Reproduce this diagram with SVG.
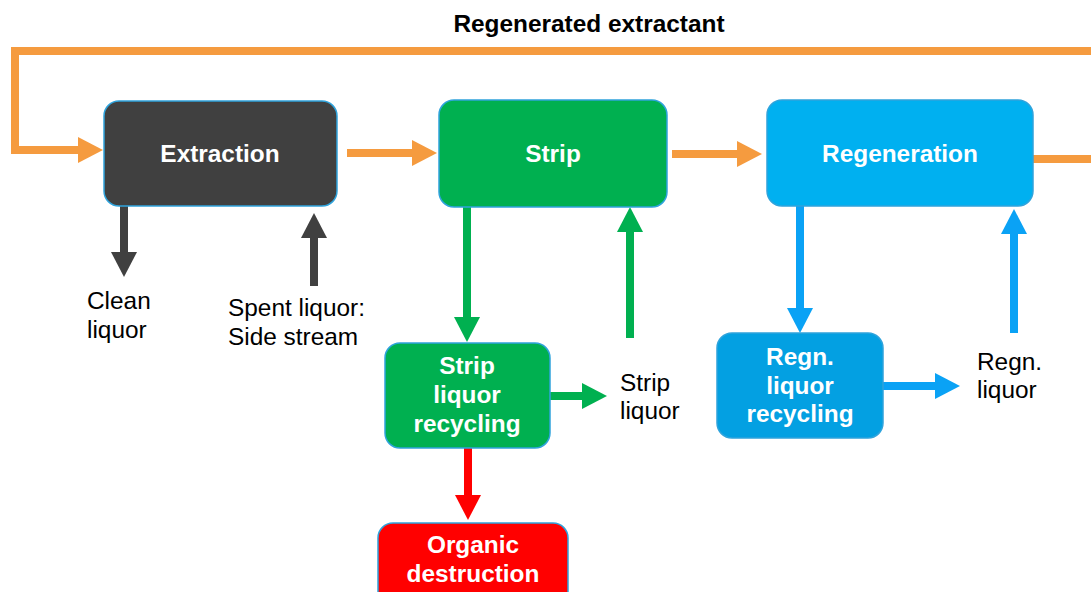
<svg xmlns="http://www.w3.org/2000/svg" width="1091" height="592" viewBox="0 0 1091 592">
  <style>
    .box { stroke: #2fa3dc; stroke-width: 1.5; }
    .bt { font-family: "Liberation Sans", Arial, sans-serif; font-weight: bold; font-size: 24.4px; fill: #ffffff; text-anchor: middle; }
    .lt { font-family: "Liberation Sans", Arial, sans-serif; font-size: 24.4px; fill: #000000; }
    .title { font-family: "Liberation Sans", Arial, sans-serif; font-weight: bold; font-size: 24.4px; fill: #000000; text-anchor: middle; }
    .c { fill: none; stroke-width: 8; }
  </style>
  <defs>
    <marker id="mo" markerUnits="userSpaceOnUse" markerWidth="25" markerHeight="26" viewBox="0 0 25 26" refX="5" refY="13" orient="auto"><path d="M0,0 L25,13 L0,26 Z" fill="#f59b3f"/></marker>
    <marker id="md" markerUnits="userSpaceOnUse" markerWidth="25" markerHeight="26" viewBox="0 0 25 26" refX="5" refY="13" orient="auto"><path d="M0,0 L25,13 L0,26 Z" fill="#404040"/></marker>
    <marker id="mg" markerUnits="userSpaceOnUse" markerWidth="25" markerHeight="26" viewBox="0 0 25 26" refX="5" refY="13" orient="auto"><path d="M0,0 L25,13 L0,26 Z" fill="#00b050"/></marker>
    <marker id="mb" markerUnits="userSpaceOnUse" markerWidth="25" markerHeight="26" viewBox="0 0 25 26" refX="5" refY="13" orient="auto"><path d="M0,0 L25,13 L0,26 Z" fill="#0aa2f5"/></marker>
    <marker id="mr" markerUnits="userSpaceOnUse" markerWidth="25" markerHeight="26" viewBox="0 0 25 26" refX="5" refY="13" orient="auto"><path d="M0,0 L25,13 L0,26 Z" fill="#ff0000"/></marker>
  </defs>

  <text class="title" x="589" y="32">Regenerated extractant</text>

  <g id="connectors">
    <path class="c" stroke="#f59b3f" d="M1033,159 H1100 V51 H15 V150 H83" marker-end="url(#mo)"/>
    <path class="c" stroke="#f59b3f" stroke-width="9" d="M347,153 H417" marker-end="url(#mo)"/>
    <path class="c" stroke="#f59b3f" stroke-width="9" d="M672,154 H742" marker-end="url(#mo)"/>
    <path class="c" stroke="#404040" stroke-width="9" d="M124,206 V257" marker-end="url(#md)"/>
    <path class="c" stroke="#404040" stroke-width="9" d="M314,286 V233" marker-end="url(#md)"/>
    <path class="c" stroke="#00b050" d="M467,207 V322" marker-end="url(#mg)"/>
    <path class="c" stroke="#00b050" d="M630,338 V227" marker-end="url(#mg)"/>
    <path class="c" stroke="#00b050" d="M550,396 H587" marker-end="url(#mg)"/>
    <path class="c" stroke="#ff0000" d="M468,448 V500" marker-end="url(#mr)"/>
    <path class="c" stroke="#0aa2f5" d="M800,206 V313" marker-end="url(#mb)"/>
    <path class="c" stroke="#0aa2f5" d="M1014,333 V229" marker-end="url(#mb)"/>
    <path class="c" stroke="#0aa2f5" d="M883,386 H940" marker-end="url(#mb)"/>
  </g>

  <g id="extraction">
    <rect class="box" x="104" y="101" width="233" height="105" rx="15" fill="#404040"/>
    <text class="bt" x="220" y="162">Extraction</text>
  </g>
  <g id="strip">
    <rect class="box" x="439" y="100" width="228" height="107" rx="15" fill="#00b050"/>
    <text class="bt" x="553" y="162">Strip</text>
  </g>
  <g id="regeneration">
    <rect class="box" x="767" y="100" width="266" height="106" rx="15" fill="#00b0f0"/>
    <text class="bt" x="900" y="162">Regeneration</text>
  </g>
  <g id="strip-liquor-recycling">
    <rect class="box" x="385" y="343" width="165" height="105" rx="15" fill="#00b050"/>
    <text class="bt" x="467" y="374">Strip</text>
    <text class="bt" x="467" y="403">liquor</text>
    <text class="bt" x="467" y="432">recycling</text>
  </g>
  <g id="regn-liquor-recycling">
    <rect class="box" x="717" y="333" width="166" height="105" rx="15" fill="#03a0e2"/>
    <text class="bt" x="800" y="365">Regn.</text>
    <text class="bt" x="800" y="394">liquor</text>
    <text class="bt" x="800" y="422">recycling</text>
  </g>
  <g id="organic-destruction">
    <rect class="box" x="378" y="523" width="190" height="100" rx="15" fill="#ff0000"/>
    <text class="bt" x="473" y="553">Organic</text>
    <text class="bt" x="473" y="582">destruction</text>
  </g>

  <g id="labels">
    <text class="lt" x="87" y="309">Clean</text>
    <text class="lt" x="87" y="338">liquor</text>
    <text class="lt" x="228" y="316">Spent liquor:</text>
    <text class="lt" x="228" y="345">Side stream</text>
    <text class="lt" x="620" y="391">Strip</text>
    <text class="lt" x="620" y="419">liquor</text>
    <text class="lt" x="977" y="370">Regn.</text>
    <text class="lt" x="977" y="398">liquor</text>
  </g>
</svg>
